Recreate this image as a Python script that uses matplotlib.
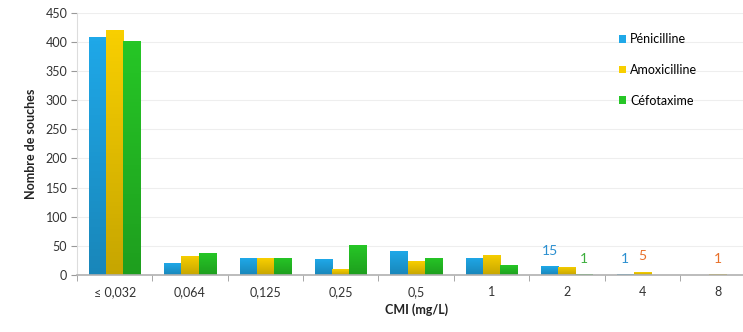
import numpy as np
import matplotlib.pyplot as plt
from matplotlib.colors import LinearSegmentedColormap, to_rgb

plt.rcParams['font.family'] = ['Lato', 'DejaVu Sans']

# Données
cmi = ["≤ 0,032", "0,064", "0,125", "0,25", "0,5", "1", "2", "4", "8"]
penicilline = [408, 20, 29, 27, 41, 30, 15, 1, 0]
amoxicilline = [420, 33, 29, 10, 24, 35, 14, 5, 1]
cefotaxime = [402, 37, 30, 51, 30, 17, 1, 0, 0]

series = [("Pénicilline", penicilline, "#1fa8e8", "#2a8fd0"),
          ("Amoxicilline", amoxicilline, "#f8cf00", "#e8702a"),
          ("Céfotaxime", cefotaxime, "#26c626", "#3cae3c")]

# étiquettes affichées au-dessus des petites barres : (série, catégorie)
etiquettes = [(0, 6), (2, 6), (0, 7), (1, 7), (1, 8)]

fig = plt.figure(figsize=(7.43, 3.32), dpi=100)
ax = fig.add_axes([0.1036, 0.1717, 0.913, 0.79])

ax.set_ylim(0, 450)
ax.set_xlim(-0.5, len(cmi) - 0.5)

x = np.arange(len(cmi))
w = 0.227
grad = np.linspace(0, 1, 64).reshape(-1, 1)
for i, (nom, vals, col, lab_col) in enumerate(series):
    bars = ax.bar(x + (i - 1) * w, vals, w, color=col, label=nom, zorder=3)
    c = np.array(to_rgb(col))
    cmap = LinearSegmentedColormap.from_list("g", [c * 0.8, c])
    for b in bars:
        h = b.get_height()
        if h <= 0:
            continue
        x0 = b.get_x()
        im = ax.imshow(grad, cmap=cmap, origin="lower", aspect="auto",
                       extent=(x0, x0 + b.get_width(), 0, h), zorder=3.5)
        im.set_clip_path(b)

for s, c in etiquettes:
    nom, vals, col, lab_col = series[s]
    ax.text(x[c] + (s - 1) * w, vals[c] + 27, str(vals[c]), color=lab_col,
            ha="center", va="center", fontsize=10)

ax.set_ylim(0, 450)
ax.set_xlim(-0.5, len(cmi) - 0.5)
ax.set_yticks(range(0, 451, 50))
ax.set_xticks(x)
ax.set_xticklabels(cmi)
ax.set_xticks(np.arange(-0.5, len(cmi), 1), minor=True)
ax.tick_params(axis="x", which="major", length=0, pad=8, labelsize=9, colors="#333333")
ax.tick_params(axis="x", which="minor", length=4, color="#999999", direction="out")
ax.tick_params(axis="y", length=4, colors="#999999", labelcolor="#333333", labelsize=9, pad=3)

ax.grid(axis="y", color="#eeeeee", linewidth=0.8, zorder=0)
for sp in ["top", "right"]:
    ax.spines[sp].set_visible(False)
ax.spines["left"].set_color("#dddddd")
ax.spines["bottom"].set_color("#b0b0b0")
ax.spines["bottom"].set_linewidth(1.2)
ax.spines["bottom"].set_zorder(4)

ax.set_ylabel("Nombre de souches", fontsize=9, fontweight="bold", color="#222222", labelpad=6)
ax.set_xlabel("CMI (mg/L)", fontsize=9, fontweight="bold", color="#222222", labelpad=4)

ax.legend(loc="upper left", bbox_to_anchor=(0.782, 0.965), frameon=False, fontsize=9,
          handlelength=0.6, handleheight=0.6, handletextpad=0.3, labelspacing=1.5)

fig.savefig("out.png", dpi=100)
